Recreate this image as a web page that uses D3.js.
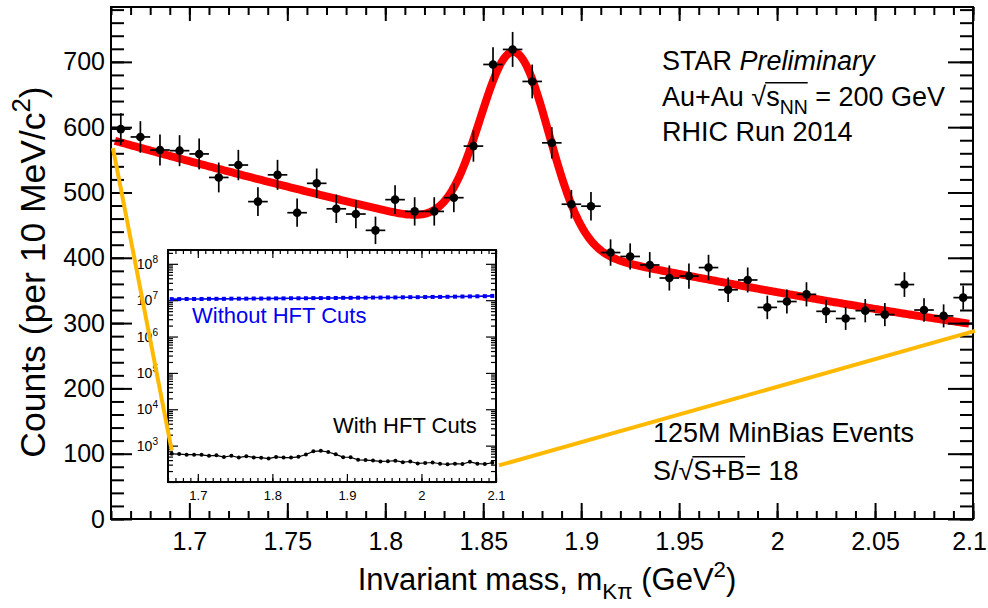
<!DOCTYPE html>
<html>
<head>
<meta charset="utf-8">
<script src="https://cdn.jsdelivr.net/npm/d3@7"></script>
<style>
  html, body { margin: 0; padding: 0; background: #fff; }
  svg { display: block; font-family: "Liberation Sans", Arial, Helvetica, sans-serif; }
</style>
</head>
<body>
<div id="chart"></div>
<script>
'use strict';

// ------------ DATA ---------------- //

// bin centres of the K-pi invariant mass histogram (GeV)
const binCenters = [
    1.665, 1.675, 1.685, 1.695, 1.705, 1.715, 1.725, 1.735, 1.745, 1.755, 1.765,
    1.775, 1.785, 1.795, 1.805, 1.815, 1.825, 1.835, 1.845, 1.855, 1.865, 1.875,
    1.885, 1.895, 1.905, 1.915, 1.925, 1.935, 1.945, 1.955, 1.965, 1.975, 1.985,
    1.995, 2.005, 2.015, 2.025, 2.035, 2.045, 2.055, 2.065, 2.075, 2.085, 2.095
];

// counts with HFT cuts (main plot and black points of the inset)
const countsWithCuts = [
    597, 585, 565, 564, 559, 523, 542, 486, 527, 469, 514,
    475, 467, 442, 489, 471, 471, 492, 571, 696, 719, 670,
    576, 482, 479, 408, 402, 389, 369, 372, 385, 351, 366,
    324, 333, 344, 318, 307, 319, 313, 359, 320, 311, 339
];

// counts without HFT cuts (blue points of the inset)
const countsWithoutCuts = [
    1.07e7, 1.07e7, 1.08e7, 1.08e7, 1.08e7, 1.09e7, 1.09e7, 1.09e7, 1.10e7, 1.10e7, 1.10e7,
    1.11e7, 1.11e7, 1.11e7, 1.12e7, 1.12e7, 1.13e7, 1.13e7, 1.13e7, 1.14e7, 1.14e7, 1.15e7,
    1.15e7, 1.16e7, 1.16e7, 1.17e7, 1.17e7, 1.18e7, 1.18e7, 1.19e7, 1.19e7, 1.20e7, 1.21e7,
    1.21e7, 1.22e7, 1.23e7, 1.23e7, 1.24e7, 1.25e7, 1.26e7, 1.27e7, 1.28e7, 1.29e7, 1.31e7
];

const binHalfWidth = 0.005;

// fit : gaussian signal on a 2nd order polynomial background
const fitRange      = [1.662, 2.098];
const fitSignal     = {mean: 1.866, sigma: 0.0175, amplitude: 288};
const fitBackground = {x0: 1.86, c0: 431, c1: -660, c2: 445};

// tick labels
const xTickLabels      = ['1.7', '1.75', '1.8', '1.85', '1.9', '1.95', '2', '2.05', '2.1'];
const yTickLabels      = ['0', '100', '200', '300', '400', '500', '600', '700'];
const insetXTickLabels = ['1.7', '1.8', '1.9', '2', '2.1'];
const insetYDecades    = [3, 4, 5, 6, 7, 8];

// ------------ LAYOUT ---------------- //

const WIDTH  = 988;
const HEIGHT = 608;
const MAIN   = {left: 111, right: 973, top: 7, bottom: 519};
const INSET  = {left: 168, right: 496, top: 250, bottom: 482};
const FONT   = 27;

const COLORS = {
    fit     : '#ff0000',
    link    : '#ffb900',
    without : '#0000f0'
};

// -------------  UTILS ------------- //

const fitValue = m => {
    const {mean, sigma, amplitude} = fitSignal;
    const {x0, c0, c1, c2}         = fitBackground;
    const t = m - x0;
    return c0 + c1 * t + c2 * t * t + amplitude * Math.exp(-0.5 * ((m - mean) / sigma) ** 2);
};

// text with sub / superscripts, parts = [{t, type, italic}]
const richText = (parent, x, y, size, parts, fill = '#000') => {
    const text = parent.append('text')
        .attr('x', x)
        .attr('y', y)
        .attr('font-size', size)
        .attr('fill', fill);
    let shift = 0;
    parts.forEach(p => {
        const target = p.type === 'sub' ? 0.3 * size : p.type === 'sup' ? -0.42 * size : 0;
        const span = text.append('tspan').text(p.t).attr('dy', target - shift);
        if(p.type) span.attr('font-size', size * 0.72);
        if(p.italic) span.attr('font-style', 'italic');
        shift = target;
    });
    return text;
};

// bar over the characters [from, to] of a text, starting after a radical sign
const overline = (parent, text, from, to, baseline, size) => {
    const node  = text.node();
    const start = node.getExtentOfChar(from);
    const end   = node.getExtentOfChar(to);
    parent.append('line')
        .attr('x1', start.x - 1)
        .attr('x2', end.x + end.width)
        .attr('y1', baseline - 0.86 * size)
        .attr('y2', baseline - 0.86 * size)
        .attr('stroke', text.attr('fill'))
        .attr('stroke-width', 1.6);
};

const axisGroup = (parent, axis, tx, ty, width, fontSize) => {
    const g = parent.append('g')
        .attr('transform', `translate(${tx},${ty})`)
        .call(axis)
        .attr('font-family', null)
        .attr('font-size', fontSize);
    g.select('.domain').remove();
    g.selectAll('.tick line').attr('stroke', '#000').attr('stroke-width', width);
    g.selectAll('.tick text').attr('fill', '#000');
    return g;
};

// ---------------  DRAWING ------------- //

const drawChart = () => {
    const svg = d3.select('#chart')
        .append('svg')
        .attr('width', WIDTH)
        .attr('height', HEIGHT);

    svg.append('rect').attr('width', WIDTH).attr('height', HEIGHT).attr('fill', '#fff');

    const x  = d3.scaleLinear([1.66, 2.1], [MAIN.left, MAIN.right]);
    const y  = d3.scaleLinear([0, 784], [MAIN.bottom, MAIN.top]);
    const xi = d3.scaleLinear([1.66, 2.1], [INSET.left, INSET.right]);
    const yi = d3.scaleLog([100, 2.4e8], [INSET.bottom, INSET.top]);

    const data = binCenters.map((m, i) => ({m, n: countsWithCuts[i], w: countsWithoutCuts[i]}));

    // ---- fit curve
    const fitPoints = d3.range(0, 401).map(i => fitRange[0] + (fitRange[1] - fitRange[0]) * i / 400);
    svg.append('path')
        .datum(fitPoints)
        .attr('d', d3.line().x(m => x(m)).y(m => y(fitValue(m))))
        .attr('fill', 'none')
        .attr('stroke', COLORS.fit)
        .attr('stroke-width', 8);

    // ---- data points with errors
    const points = svg.append('g').selectAll('g').data(data).enter().append('g');
    points.append('line')
        .attr('x1', d => x(d.m)).attr('x2', d => x(d.m))
        .attr('y1', d => y(d.n - Math.sqrt(d.n))).attr('y2', d => y(d.n + Math.sqrt(d.n)))
        .attr('stroke', '#000').attr('stroke-width', 1.7);
    points.append('line')
        .attr('x1', d => x(d.m - binHalfWidth)).attr('x2', d => x(d.m + binHalfWidth))
        .attr('y1', d => y(d.n)).attr('y2', d => y(d.n))
        .attr('stroke', '#000').attr('stroke-width', 1.7);
    points.append('circle')
        .attr('cx', d => x(d.m)).attr('cy', d => y(d.n))
        .attr('r', 4.3).attr('fill', '#000');

    // ---- main axes (ticks inside, ROOT style)
    const xMajor = xTickLabels.map(Number);
    const xMinor = d3.range(166, 211).map(i => i / 100);
    const yMajor = yTickLabels.map(Number);
    const yMinor = d3.range(0, 781, 20);

    axisGroup(svg, d3.axisBottom(x).tickValues(xMinor).tickSize(-8).tickFormat(''), 0, MAIN.bottom, 2, 0);
    const bottom = axisGroup(svg, d3.axisBottom(x).tickValues(xMajor).tickSize(-16).tickPadding(13)
        .tickFormat((d, i) => xTickLabels[i]), 0, MAIN.bottom, 2, 25);
    // keep the last label inside the picture
    bottom.selectAll('.tick text').filter(d => d === 2.1).attr('dx', -4);
    axisGroup(svg, d3.axisTop(x).tickValues(xMinor).tickSize(-8).tickFormat(''), 0, MAIN.top, 2, 0);
    axisGroup(svg, d3.axisTop(x).tickValues(xMajor).tickSize(-14).tickFormat(''), 0, MAIN.top, 2, 0);
    axisGroup(svg, d3.axisLeft(y).tickValues(yMinor).tickSize(-13).tickFormat(''), MAIN.left, 0, 2, 0);
    axisGroup(svg, d3.axisLeft(y).tickValues(yMajor).tickSize(-21).tickPadding(6)
        .tickFormat((d, i) => yTickLabels[i]), MAIN.left, 0, 2, 25);
    axisGroup(svg, d3.axisRight(y).tickValues(yMinor).tickSize(-13).tickFormat(''), MAIN.right, 0, 2, 0);
    axisGroup(svg, d3.axisRight(y).tickValues(yMajor).tickSize(-25).tickFormat(''), MAIN.right, 0, 2, 0);

    svg.append('rect')
        .attr('x', MAIN.left).attr('y', MAIN.top)
        .attr('width', MAIN.right - MAIN.left).attr('height', MAIN.bottom - MAIN.top)
        .attr('fill', 'none').attr('stroke', '#000').attr('stroke-width', 2);

    // ---- inset
    svg.append('rect')
        .attr('x', INSET.left).attr('y', INSET.top)
        .attr('width', INSET.right - INSET.left).attr('height', INSET.bottom - INSET.top)
        .attr('fill', '#fff');

    const logMinor = [];
    d3.range(2, 9).forEach(k => d3.range(2, 10).forEach(f => {
        const v = f * 10 ** k;
        if(v < 2.4e8) logMinor.push(v);
    }));
    const logMajor   = d3.range(2, 9).map(k => 10 ** k);
    const insetMajor = insetXTickLabels.map(Number);
    const insetMinor = d3.range(166, 211).map(i => i / 100);

    axisGroup(svg, d3.axisBottom(xi).tickValues(insetMinor).tickSize(-4).tickFormat(''), 0, INSET.bottom, 1.2, 0);
    axisGroup(svg, d3.axisBottom(xi).tickValues(insetMajor).tickSize(-8).tickPadding(9)
        .tickFormat((d, i) => insetXTickLabels[i]), 0, INSET.bottom, 1.2, 13);
    axisGroup(svg, d3.axisTop(xi).tickValues(insetMinor).tickSize(-4).tickFormat(''), 0, INSET.top, 1.2, 0);
    axisGroup(svg, d3.axisTop(xi).tickValues(insetMajor).tickSize(-8).tickFormat(''), 0, INSET.top, 1.2, 0);
    axisGroup(svg, d3.axisLeft(yi).tickValues(logMinor).tickSize(-5).tickFormat(''), INSET.left, 0, 1.2, 0);
    axisGroup(svg, d3.axisLeft(yi).tickValues(logMajor).tickSize(-10).tickFormat(''), INSET.left, 0, 1.2, 0);
    axisGroup(svg, d3.axisRight(yi).tickValues(logMinor).tickSize(-5).tickFormat(''), INSET.right, 0, 1.2, 0);
    axisGroup(svg, d3.axisRight(yi).tickValues(logMajor).tickSize(-10).tickFormat(''), INSET.right, 0, 1.2, 0);

    insetYDecades.forEach(k => {
        richText(svg, INSET.left - 10, yi(10 ** k) + 5, 14, [{t: '10'}, {t: String(k), type: 'sup'}])
            .attr('text-anchor', 'end');
    });

    const insetLine = key => d3.line().x(d => xi(d.m)).y(d => yi(d[key]));

    svg.append('path').datum(data).attr('d', insetLine('w'))
        .attr('fill', 'none').attr('stroke', COLORS.without).attr('stroke-width', 1.6);
    svg.append('g').selectAll('rect').data(data).enter().append('rect')
        .attr('x', d => xi(d.m) - 2).attr('y', d => yi(d.w) - 2)
        .attr('width', 4).attr('height', 4).attr('fill', COLORS.without);

    svg.append('path').datum(data).attr('d', insetLine('n'))
        .attr('fill', 'none').attr('stroke', '#000').attr('stroke-width', 1.2);
    svg.append('g').selectAll('circle').data(data).enter().append('circle')
        .attr('cx', d => xi(d.m)).attr('cy', d => yi(d.n)).attr('r', 2).attr('fill', '#000');

    svg.append('rect')
        .attr('x', INSET.left).attr('y', INSET.top)
        .attr('width', INSET.right - INSET.left).attr('height', INSET.bottom - INSET.top)
        .attr('fill', 'none').attr('stroke', '#000').attr('stroke-width', 2);

    richText(svg, 192, 323, 22, [{t: 'Without HFT Cuts'}], COLORS.without);
    richText(svg, 333, 433, 22, [{t: 'With HFT Cuts'}]);

    // ---- lines linking the inset to the main histogram
    const links = [
        [[x(1.661), y(568)], [xi(1.665), yi(740)]],
        [[xi(2.104), yi(287)], [x(2.101), y(288)]]
    ];
    svg.append('g').selectAll('line').data(links).enter().append('line')
        .attr('x1', d => d[0][0]).attr('y1', d => d[0][1])
        .attr('x2', d => d[1][0]).attr('y2', d => d[1][1])
        .attr('stroke', COLORS.link).attr('stroke-width', 4);

    // ---- axis titles
    richText(svg, 547, 590, 31, [
        {t: 'Invariant mass, m'}, {t: 'Kπ', type: 'sub'}, {t: ' (GeV'}, {t: '2', type: 'sup'}, {t: ')'}
    ]).attr('text-anchor', 'middle');

    richText(svg, 0, 0, 35.5, [
        {t: 'Counts (per 10 MeV/c'}, {t: '2', type: 'sup'}, {t: ')'}
    ]).attr('text-anchor', 'middle').attr('transform', 'translate(45,272) rotate(-90)');

    // ---- labels
    richText(svg, 662, 70, FONT, [{t: 'STAR '}, {t: 'Preliminary', italic: true}]);
    const energy = richText(svg, 662, 106, FONT, [
        {t: 'Au+Au √'}, {t: 's'}, {t: 'NN', type: 'sub'}, {t: ' = 200 GeV'}
    ]);
    overline(svg, energy, 7, 9, 106, FONT);
    richText(svg, 662, 141, FONT, [{t: 'RHIC Run 2014'}]);

    richText(svg, 653, 442, FONT, [{t: '125M MinBias Events'}]);
    const signif = richText(svg, 653, 480, FONT, [{t: 'S/√'}, {t: 'S+B'}, {t: '= 18'}]);
    overline(svg, signif, 3, 5, 480, FONT);
};

// --------------------   MAIN   ------------------- //

document.addEventListener('DOMContentLoaded', drawChart);
</script>
</body>
</html>
